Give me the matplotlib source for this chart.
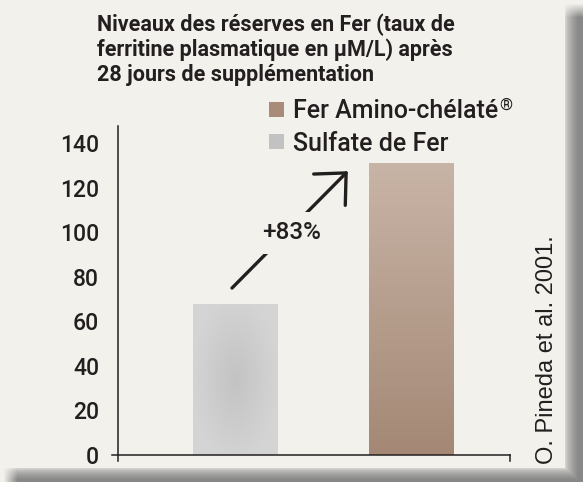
import numpy as np
import matplotlib
matplotlib.use("Agg")
import matplotlib.pyplot as plt

# Données
produits = ["Sulfate de Fer", "Fer Amino-chélaté"]
ferritine = [68, 131]
ticks_y = [0, 20, 40, 60, 80, 100, 120, 140]
gain_label = "+83%"
titre = ["Niveaux des réserves en Fer (taux de",
         "ferritine plasmatique en µM/L) après",
         "28 jours de supplémentation"]
source = "O. Pineda et al. 2001."

W, H = 583, 482
creme = np.array([0xf3, 0xf1, 0xec]) / 255
ombre = np.array([0x88, 0x88, 0x88]) / 255
sombre = "#231f20"
gris_leg = "#c2c2c2"
brun_leg = "#a88c79"
police = "Roboto"


def fx(px):
    return px / W


def fy(py):
    return 1 - py / H


fig = plt.figure(figsize=(W / 100, H / 100), dpi=100)

# fond crème avec ombre à droite et en bas
bg = fig.add_axes([0, 0, 1, 1], zorder=-5)
yy, xx = np.mgrid[0:H, 0:W]
d_right = np.clip((xx - 564) / 14, 0, 1) ** 0.5 * np.clip((yy - 3) / 14, 0, 1)
d_bot = np.clip((yy - 467) / 12, 0, 1) ** 0.5 * np.clip((xx - 3) / 14, 0, 1)
d = np.maximum(d_right, d_bot)[..., None]
img = creme * (1 - d) + ombre * d
bg.imshow(img, aspect="auto", extent=[0, W, H, 0])
bg.set_xlim(0, W)
bg.set_ylim(H, 0)
bg.axis("off")

# axe principal
ax = fig.add_axes([fx(118), fy(455), fx(510) - fx(118), (455 - 126) / H])
ax.set_facecolor("none")
pos = np.arange(len(produits))
largeur = 0.484

bars = ax.bar(pos, ferritine, width=largeur, color="none", edgecolor="none")

# barre grise : dégradé radial
b0 = bars[0]
x0, w0, h0 = b0.get_x(), b0.get_width(), b0.get_height()
gy, gx = np.mgrid[0:1:200j, 0:1:100j]
r = np.sqrt(((gx - 0.5) / 0.5) ** 2 + ((gy - 0.5) / 0.55) ** 2)
t = np.clip(r, 0, 1)[..., None]
c_centre = np.array([0xc3, 0xc3, 0xc3]) / 255
c_bord = np.array([0xd4, 0xd4, 0xd4]) / 255
grad_gris = c_centre * (1 - t) + c_bord * t
im0 = ax.imshow(grad_gris, extent=[x0, x0 + w0, 0, h0], aspect="auto",
                origin="lower", zorder=2)
im0.set_clip_path(b0)

# barre brune : dégradé vertical
b1 = bars[1]
x1, w1, h1 = b1.get_x(), b1.get_width(), b1.get_height()
v = np.linspace(0, 1, 200)[:, None, None]
c_bas = np.array([0xa4, 0x88, 0x75]) / 255
c_haut = np.array([0xc8, 0xb4, 0xa6]) / 255
grad_brun = np.repeat(c_bas * (1 - v) + c_haut * v, 2, axis=1)
im1 = ax.imshow(grad_brun, extent=[x1, x1 + w1, 0, h1], aspect="auto",
                origin="lower", zorder=2)
im1.set_clip_path(b1)

ax.set_xlim(-0.6695, 1.564)
ax.set_ylim(0, 147.8)

# axes dessinés à la main (croix à l'origine, petit trait à droite)
for s in ax.spines.values():
    s.set_visible(False)
ax.set_xticks([])
ax.set_yticks(ticks_y)
ax.tick_params(axis="y", length=0, pad=13.5, labelsize=16.5, labelcolor=sombre)
for lab in ax.get_yticklabels():
    lab.set_fontfamily(police)
    lab.set_fontweight("medium")
ax.plot([-6 / 392, 1], [0, 0], transform=ax.transAxes, color=sombre,
        lw=1.1, clip_on=False, zorder=3)
ax.plot([0, 0], [-6 / 329, 1], transform=ax.transAxes, color=sombre,
        lw=1.1, clip_on=False, zorder=3)
ax.plot([1, 1], [0, -6 / 329], transform=ax.transAxes, color=sombre,
        lw=1.1, clip_on=False, zorder=3)

# flèche +83 %
depart = (pos[0] - 0.02, ferritine[0] + 7)
arrivee = (pos[1] - 0.36, ferritine[1] - 3.5)
ax.annotate("", xy=arrivee, xytext=depart,
            arrowprops=dict(arrowstyle="->,head_length=0.85,head_width=0.8",
                            lw=2.4, color=sombre, shrinkA=0, shrinkB=0,
                            mutation_scale=20), zorder=4)
mx = (depart[0] + arrivee[0]) / 2 + 0.01
my = (depart[1] + arrivee[1]) / 2 - 1.5
ax.text(mx, my, gain_label, ha="center", va="center", fontsize=17.5,
        fontfamily=police, fontweight="medium", color=sombre, zorder=5,
        bbox=dict(boxstyle="square,pad=0.4", fc=creme, ec="none"))

# titre
for i, ligne in enumerate(titre):
    fig.text(fx(97), fy(31 + 25 * i), ligne, ha="left", va="baseline",
             fontsize=15.5, fontweight="bold", fontfamily=police,
             color=sombre)

# légende
leg = [(produits[1], brun_leg, 109), (produits[0], gris_leg, 141)]
for nom, coul, yc in leg:
    fig.patches.append(plt.Rectangle((fx(269), fy(yc + 7.5)), 15 / W, 15 / H,
                                     transform=fig.transFigure, fc=coul,
                                     ec="none"))
    txt = fig.text(fx(293), fy(yc), nom, ha="left", va="center_baseline",
                   fontsize=18, fontfamily=police, fontweight="medium",
                   color=sombre)
    if nom == produits[1]:
        fig.canvas.draw()
        bb = txt.get_window_extent()
        fig.text(bb.x1 / W + 1.5 / W, fy(yc - 4), "®", ha="left",
                 va="center", fontsize=12, fontfamily=police,
                 color=sombre)

# source
fig.text(fx(547), fy(350), source, rotation=90, ha="center", va="center",
         fontsize=17, fontfamily="Liberation Sans", color=sombre)

fig.savefig("out.png", dpi=100)
